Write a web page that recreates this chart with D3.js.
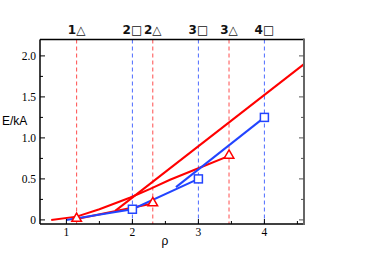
<!DOCTYPE html>
<html><head><meta charset="utf-8">
<script src="https://cdn.jsdelivr.net/npm/d3@7"></script>
<style>body{margin:0;background:#fff}svg{display:block}</style>
</head><body>
<script>
// ---- data ----
const triRho = [1.155, 2.309, 3.464];
const triE = [0.01, 0.20, 0.78];
const triLabels = ["1△", "2△", "3△"];
const sqRho = [2, 3, 4];
const sqE = [0.13, 0.50, 1.25];
const sqLabels = ["2□", "3□", "4□"];
// blue polyline through square states
const bluePathRho = [1, 2, 3];
const bluePathE = [0, 0.13, 0.50];
// blue tangent line ending at 4□
const blueTanRho = [2.66, 4];
const blueTanE = [0.40, 1.25];
// red polyline 1△ -> 2△
const redPathRho = [1.155, 2.309];
const redPathE = [0.01, 0.20];
// red long straight line
const redLongRho = [1.74, 4.6];
const redLongE = [0.11, 1.90];
// red curve ending at 3△
const redCurveRho = [0.77, 1.155, 1.5, 1.96, 2.27, 2.57, 3.0, 3.464];
const redCurveE = [0.0, 0.04, 0.13, 0.27, 0.378, 0.49, 0.63, 0.78];
const xTicks = [1, 2, 3, 4];
const yTicks = [0, 0.5, 1.0, 1.5, 2.0];
const yTickLabels = ["0", "0.5", "1.0", "1.5", "2.0"];

const W = 374, H = 264;
const svg = d3.select("body").append("svg").attr("width", W).attr("height", H);
const x = d3.scaleLinear().domain([0.6, 4.6]).range([40, 304]);
const y = d3.scaleLinear().domain([-0.05, 2.2]).range([224, 39.5]);

const RED = "#ff0000", BLUE = "#2244ff";
const plot = svg.append("g");

// dashed verticals
const vlines = triRho.map((r, i) => ({r, c: "#ff4d4d", lab: triLabels[i]}))
  .concat(sqRho.map((r, i) => ({r, c: "#4d6bff", lab: sqLabels[i]})));
plot.selectAll("line.v").data(vlines).join("line")
  .attr("x1", d => x(d.r)).attr("x2", d => x(d.r))
  .attr("y1", y.range()[1]).attr("y2", y.range()[0])
  .attr("stroke", d => d.c).attr("stroke-width", 1).attr("stroke-dasharray", "4,3");
svg.selectAll("text.top").data(vlines).join("text")
  .attr("x", d => x(d.r)).attr("y", 34)
  .attr("text-anchor", "middle")
  .attr("font-family", "DejaVu Sans, sans-serif").attr("font-size", 12).attr("font-weight", "bold")
  .attr("fill", "#111").text(d => d.lab);

const line = d3.line().x(d => x(d[0])).y(d => y(d[1]));
const zip = (a, b) => a.map((v, i) => [v, b[i]]);
const lw = 2;
plot.append("path").attr("d", line(zip(redCurveRho, redCurveE))).attr("fill", "none").attr("stroke", RED).attr("stroke-width", lw);
plot.append("path").attr("d", line(zip(redLongRho, redLongE))).attr("fill", "none").attr("stroke", RED).attr("stroke-width", lw);
plot.append("path").attr("d", line(zip(redPathRho, redPathE))).attr("fill", "none").attr("stroke", RED).attr("stroke-width", lw);
plot.append("path").attr("d", line(zip(bluePathRho, bluePathE))).attr("fill", "none").attr("stroke", BLUE).attr("stroke-width", lw);
plot.append("path").attr("d", line(zip(blueTanRho, blueTanE))).attr("fill", "none").attr("stroke", BLUE).attr("stroke-width", lw);

// markers
const tri = d3.symbol().type(d3.symbolTriangle).size(40);
plot.selectAll("path.tri").data(zip(triRho, triE)).join("path")
  .attr("d", tri).attr("transform", d => `translate(${x(d[0])},${y(d[1]) - 0.5})`)
  .attr("fill", "#fff").attr("stroke", RED).attr("stroke-width", 1.5);
plot.selectAll("rect.sq").data(zip(sqRho, sqE)).join("rect")
  .attr("x", d => x(d[0]) - 4).attr("y", d => y(d[1]) - 4).attr("width", 8).attr("height", 8)
  .attr("fill", "#fff").attr("stroke", BLUE).attr("stroke-width", 1.5);

// frame
const [X0, X1] = x.range(), [Y0, Y1] = [y.range()[1], y.range()[0]];
svg.append("line").attr("x1", X0).attr("x2", X1).attr("y1", Y0).attr("y2", Y0).attr("stroke", "#000").attr("stroke-width", 1.5);
svg.append("line").attr("x1", X0).attr("x2", X1).attr("y1", Y1).attr("y2", Y1).attr("stroke", "#000").attr("stroke-width", 1.5);
svg.append("line").attr("x1", X0).attr("x2", X0).attr("y1", Y0).attr("y2", Y1).attr("stroke", "#000").attr("stroke-width", 1.5);
svg.append("line").attr("x1", X1).attr("x2", X1).attr("y1", Y0 - 1).attr("y2", Y1 + 1).attr("stroke", "#666").attr("stroke-width", 2);

// ticks
const yMinor = d3.range(0, 2.2, 0.25);
yMinor.forEach(v => {
  const major = Math.abs(v * 2 - Math.round(v * 2)) < 1e-6;
  const len = major ? 5 : 3;
  svg.append("line").attr("x1", X0).attr("x2", X0 + len).attr("y1", y(v)).attr("y2", y(v)).attr("stroke", "#000").attr("stroke-width", 1);
  svg.append("line").attr("x1", X1).attr("x2", X1 - len).attr("y1", y(v)).attr("y2", y(v)).attr("stroke", "#555").attr("stroke-width", 1);
});
const xMinor = d3.range(1, 4.6, 0.5);
xMinor.forEach(v => {
  const major = Math.abs(v - Math.round(v)) < 1e-6;
  const len = major ? 5 : 3;
  svg.append("line").attr("x1", x(v)).attr("x2", x(v)).attr("y1", Y1).attr("y2", Y1 - len).attr("stroke", "#000").attr("stroke-width", 1);
});
svg.selectAll("text.yt").data(yTicks).join("text")
  .attr("x", 36).attr("y", d => y(d) + 4).attr("text-anchor", "end")
  .attr("font-family", "Liberation Serif, Times New Roman, serif").attr("font-size", 11.5)
  .text((d, i) => yTickLabels[i]);
svg.selectAll("text.xt").data(xTicks).join("text")
  .attr("x", d => x(d)).attr("y", 236).attr("text-anchor", "middle")
  .attr("font-family", "Liberation Serif, Times New Roman, serif").attr("font-size", 11.5)
  .text(d => d);
svg.append("text").attr("x", 165).attr("y", 245).attr("text-anchor", "middle")
  .attr("font-family", "Liberation Sans, Arial, sans-serif").attr("font-size", 12).text("ρ");
svg.append("text").attr("x", 2).attr("y", 125)
  .attr("font-family", "Liberation Sans, Arial, sans-serif").attr("font-size", 12).text("E/kA");
</script>
</body></html>
